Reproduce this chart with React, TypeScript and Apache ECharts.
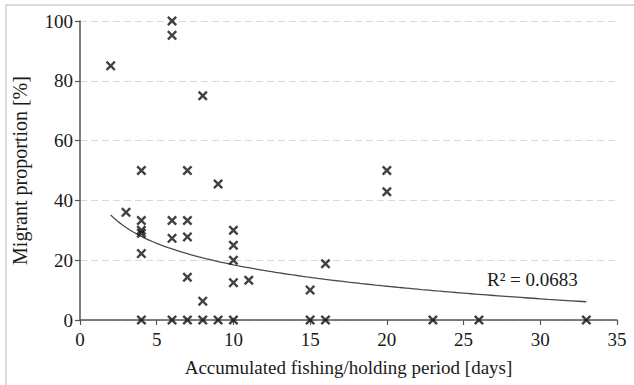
import React, { useEffect, useRef } from "react";
import * as echarts from "echarts";

// Accumulated fishing/holding period [days] and migrant proportion [%]
const periodDays = [
  2, 3,
  4, 4, 4, 4, 4, 4,
  6, 6, 6, 6, 6,
  7, 7, 7, 7, 7,
  8, 8, 8,
  9, 9,
  10, 10, 10, 10, 10,
  11,
  15, 15,
  16, 16,
  20, 20,
  23, 26, 33,
];
const migrantPct = [
  85, 36,
  50, 33.3, 30, 29, 22.2, 0,
  100, 95.2, 33.3, 27.3, 0,
  50, 33.3, 27.8, 14.3, 0,
  75, 6.3, 0,
  45.5, 0,
  30, 25, 20, 12.5, 0,
  13.3,
  10, 0,
  18.8, 0,
  50, 42.9,
  0, 0, 0,
];

// Logarithmic trendline y = a + b·ln(x), shown from x = 2 to x = 33
const trendIntercept = 42.3;
const trendSlope = -10.35;
const trendFrom = 2;
const trendTo = 33;
const trendLabel = "R² = 0.0683";

const xTicks = { min: 0, max: 35, interval: 5 };
const yTicks = { min: 0, max: 100, interval: 20 };

const FONT = "'Liberation Serif', 'Times New Roman', serif";
const TEXT = "#1a1a1a";
const AXIS = "#555555";

const CROSS =
  "path://M0,1.7 L1.7,0 L5,3.3 L8.3,0 L10,1.7 L6.7,5 L10,8.3 L8.3,10 L5,6.7 L1.7,10 L0,8.3 L3.3,5 Z";

export default function App() {
  const ref = useRef<HTMLDivElement>(null);

  useEffect(() => {
    if (!ref.current) return;
    document.body.style.margin = "0";
    const chart = echarts.init(ref.current, undefined, { renderer: "svg" });

    const points = periodDays.map((d, i) => [d, migrantPct[i]]);
    const trend: number[][] = [];
    for (let x = trendFrom; x <= trendTo + 1e-9; x += 0.25) {
      trend.push([x, trendIntercept + trendSlope * Math.log(x)]);
    }

    chart.setOption({
      animation: false,
      backgroundColor: "#ffffff",
      grid: { left: 80, right: 17, top: 21, bottom: 65 },
      xAxis: {
        type: "value",
        ...xTicks,
        name: "Accumulated fishing/holding period [days]",
        nameLocation: "middle",
        nameGap: 38,
        nameTextStyle: { fontFamily: FONT, fontSize: 19, color: TEXT },
        axisLine: { show: true, lineStyle: { color: AXIS, width: 1.5 } },
        axisTick: { show: true, length: 5, lineStyle: { color: AXIS, width: 1.2 } },
        axisLabel: { fontFamily: FONT, fontSize: 19, color: TEXT, margin: 10 },
        splitLine: { show: false },
      },
      yAxis: {
        type: "value",
        ...yTicks,
        name: "Migrant proportion [%]",
        nameLocation: "middle",
        nameGap: 50,
        nameTextStyle: { fontFamily: FONT, fontSize: 20, color: TEXT },
        axisLine: { show: true, lineStyle: { color: AXIS, width: 1.5 } },
        axisTick: { show: true, length: 5, lineStyle: { color: AXIS, width: 1.2 } },
        axisLabel: { fontFamily: FONT, fontSize: 19, color: TEXT, margin: 7 },
        splitLine: {
          show: true,
          lineStyle: { color: "#d9d9d9", width: 1, type: [7, 4] },
        },
      },
      graphic: [
        {
          type: "rect",
          shape: { x: 6, y: 5, width: 700, height: 500 },
          style: { fill: "none", stroke: "#d0d0d0", lineWidth: 1.5 },
          silent: true,
          z: -10,
        },
        {
          type: "text",
          x: 487,
          y: 279,
          style: {
            text: trendLabel,
            fontFamily: FONT,
            fontSize: 19,
            fill: TEXT,
            verticalAlign: "middle",
          },
          z: 10,
        },
      ],
      series: [
        {
          type: "line",
          data: trend,
          showSymbol: false,
          smooth: false,
          lineStyle: { color: "#4a4a4a", width: 1.3 },
          z: 3,
          silent: true,
        },
        {
          type: "scatter",
          data: points,
          symbol: CROSS,
          symbolSize: 10,
          itemStyle: { color: "#111111" },
          clip: false,
          z: 5,
        },
      ],
    });

    return () => chart.dispose();
  }, []);

  return <div ref={ref} style={{ width: 634, height: 385 }} />;
}
